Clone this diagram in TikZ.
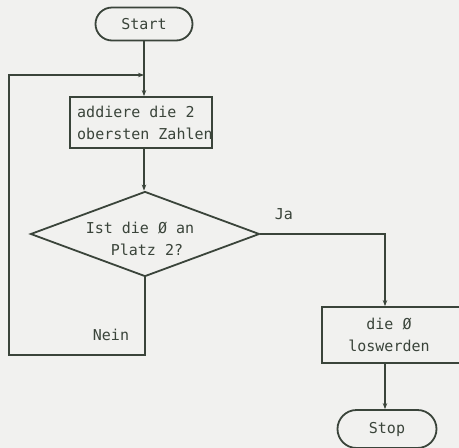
\documentclass[tikz,border=0pt]{standalone}
\usepackage{fontspec}
\setmonofont{DejaVu Sans Mono}
\usetikzlibrary{shapes.geometric,shapes.misc,arrows.meta}
\definecolor{ink}{HTML}{3A443A}
\definecolor{paper}{HTML}{F1F1EF}
\begin{document}
\begin{tikzpicture}[x=1pt,y=-1pt,
  every node/.style={font=\ttfamily\fontsize{15}{22}\selectfont,text=ink},
  line/.style={draw=ink,line width=1.8pt},
  arr/.style={line,-{Stealth[length=6pt,width=4.5pt]}},
  terminal/.style={rounded rectangle,draw=ink,line width=1.8pt,minimum width=97pt,minimum height=33pt,inner sep=0pt},
  procbox/.style={rectangle,draw=ink,line width=1.8pt,inner sep=0pt},
  decision/.style={diamond,draw=ink,line width=1.8pt,inner sep=0pt,minimum width=229pt,minimum height=85pt},
  lbl/.style={inner sep=0pt,align=center}]
\fill[paper] (0,0) rectangle (459,448);
\useasboundingbox (0,0) rectangle (459,448);
\node[terminal] (start) at (144,24) {Start};
\node[procbox,minimum width=142pt,minimum height=51pt] (add) at (141,122.5) {};
\node[lbl,align=left,anchor=west] (addtext) at (77,122.5) {addiere die 2\\obersten Zahlen};
\node[decision] (dec) at (145,234) {};
\node[lbl] (dectext) at (140,239) {Ist die Ø an\\\hspace*{14pt}Platz 2?};
\node[procbox,minimum width=144pt,minimum height=56pt] (rem) at (394,335) {};
\node[lbl] (remtext) at (389,335) {die Ø\\loswerden};
\node[terminal,minimum width=99pt,minimum height=38pt] (stop) at (387,429) {Stop};
\coordinate (j) at (144,75);
\coordinate (lt) at (9,75);
\coordinate (lb) at (9,355);
\coordinate (nb) at (dec.south |- lb);
\coordinate (jr) at (385,234);
\draw[arr] (start.south) -- (add.north -| start.south);
\draw[arr] (add.south -| start.south) -- (dec.north -| start.south);
\draw[arr] (dec.south) -- (nb) -- (lb) -- (lt) -- (j);
\draw[arr] (dec.east) -- (jr) -- (rem.north -| jr);
\draw[arr] (rem.south -| jr) -- (stop.north -| jr);
\node[lbl] (ja) at (284,214) {Ja};
\node[lbl] (nein) at (111,335) {Nein};
\end{tikzpicture}
\end{document}
